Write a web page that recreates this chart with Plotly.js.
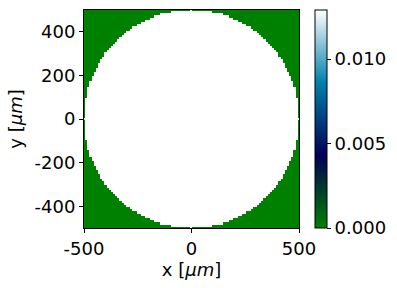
<!DOCTYPE html>
<html>
<head>
<meta charset="utf-8">
<script src="https://cdn.plot.ly/plotly-3.0.1.min.js"></script>
<style>html,body{margin:0;padding:0;background:#fff;}#plot{width:397px;height:288px;}</style>
</head>
<body>
<div id="plot"></div>
<script>
// Grid coordinates (micrometres) and aperture parameters
const xCoords = [];
const yCoords = [];
const nGrid = 101;          // pixels per side
const halfSize = 500;       // half width of the field, µm
const apertureRadius = 500; // µm
const insideValue = 0.0129; // value inside the aperture
const outsideValue = 0.0;

const xTickVals = [-500, 0, 500];
const xTickText = ["-500", "0", "500"];
const yTickVals = [-400, -200, 0, 200, 400];
const yTickText = ["-400", "-200", "0", "200", "400"];
const cbTickVals = [0, 0.005, 0.010];
const cbTickText = ["0.000", "0.005", "0.010"];

for (let i = 0; i < nGrid; i++) {
  const v = -halfSize + i * (2 * halfSize) / (nGrid - 1);
  xCoords.push(v);
  yCoords.push(v);
}
const z = yCoords.map(y => xCoords.map(x => (x * x + y * y <= apertureRadius * apertureRadius) ? insideValue : outsideValue));

// matplotlib "ocean" colormap
const ocean = [
  [0, 'rgb(0,128,0)'],
  [1/3, 'rgb(0,0,85)'],
  [2/3, 'rgb(0,128,170)'],
  [1, 'rgb(255,255,255)']
];

const font = {family: 'DejaVu Sans', size: 18, color: '#000'};

const trace = {
  type: 'heatmap',
  x: xCoords, y: yCoords, z: z,
  zmin: 0, zmax: insideValue,
  colorscale: ocean,
  zsmooth: false,
  hoverinfo: 'skip',
  colorbar: {
    x: 1.0734, xanchor: 'left', xpad: 0,
    y: 0.5, yanchor: 'middle', ypad: 0,
    len: 1, lenmode: 'fraction',
    thickness: 12, thicknessmode: 'pixels',
    outlinewidth: 1, outlinecolor: '#000',
    ticks: 'outside', ticklen: 4, tickwidth: 1, tickcolor: '#000',
    tickvals: cbTickVals, ticktext: cbTickText,
    tickfont: font
  }
};

const layout = {
  width: 397, height: 288,
  margin: {l: 84, r: 95, t: 10, b: 60, pad: 0},
  paper_bgcolor: '#fff', plot_bgcolor: '#fff',
  font: font,
  xaxis: {
    range: [-500, 500], showgrid: false, zeroline: false,
    showline: true, linecolor: '#000', linewidth: 1, mirror: true,
    ticks: 'outside', ticklen: 4, tickwidth: 1, tickcolor: '#000',
    tickvals: xTickVals, ticktext: xTickText, tickfont: font,
    title: {text: 'x [<i>μm</i>]', font: font, standoff: 5},
    automargin: false
  },
  yaxis: {
    range: [-500, 500], showgrid: false, zeroline: false,
    showline: true, linecolor: '#000', linewidth: 1, mirror: true,
    ticks: 'outside', ticklen: 4, tickwidth: 1, tickcolor: '#000',
    tickvals: yTickVals, ticktext: yTickText, tickfont: font,
    title: {text: 'y [<i>μm</i>]', font: font, standoff: 7},
    automargin: false
  }
};

Plotly.newPlot('plot', [trace], layout, {displayModeBar: false, staticPlot: true});
</script>
</body>
</html>
